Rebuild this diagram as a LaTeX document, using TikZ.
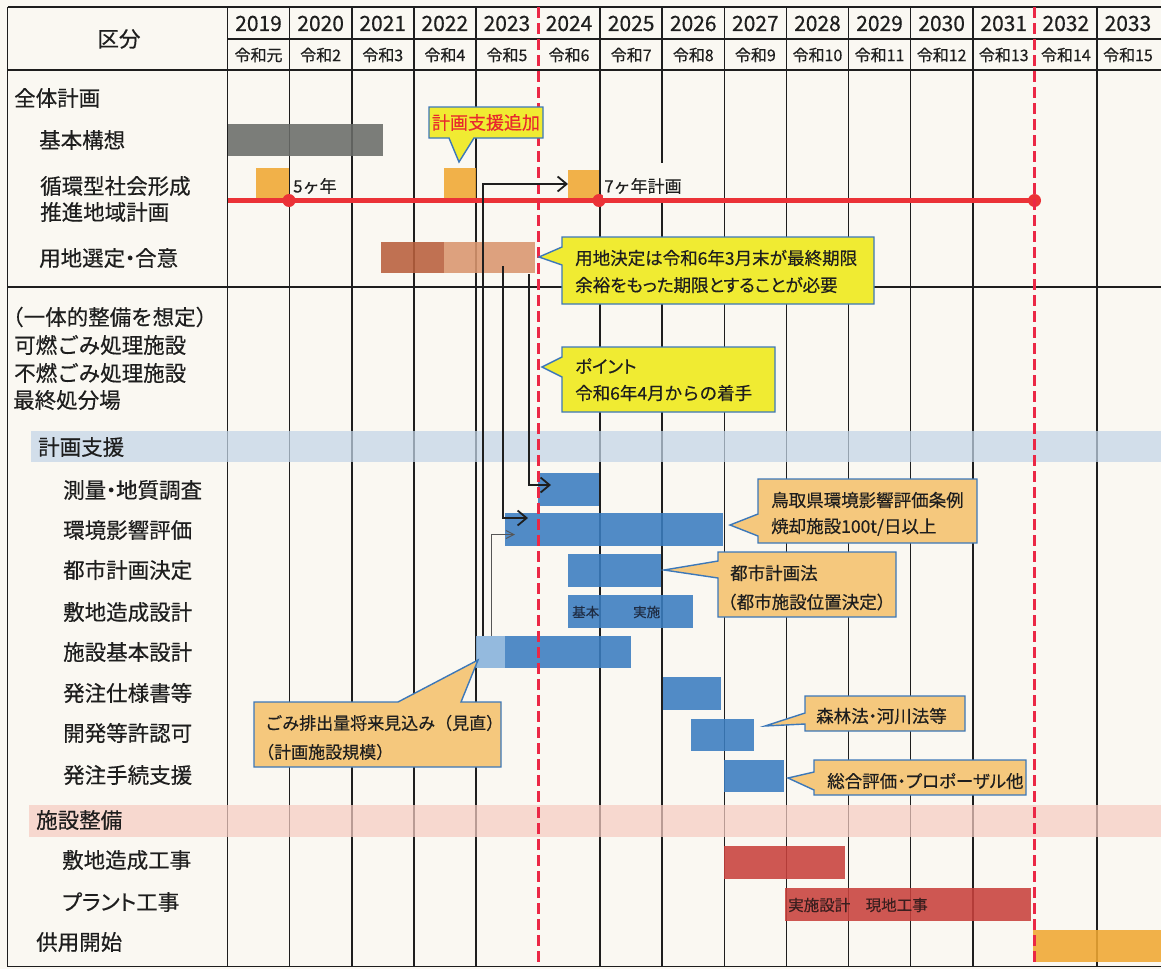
\documentclass[tikz,border=0pt]{standalone}
\usepackage{fontspec}
\setmainfont{Noto Sans CJK JP}[FakeBold=0.4]
\newfontfamily\jpp{Noto Sans CJK JP}[RawFeature=+palt,FakeBold=0.4]
\newcommand\nkg{\kern-0.27em・\kern-0.27em}
\usetikzlibrary{arrows.meta,fit,calc}
\definecolor{paper}{HTML}{FAF8F2}
\definecolor{ink}{HTML}{1E1E1E}
\definecolor{barblue}{HTML}{3A7DC0}
\definecolor{barbluelt}{HTML}{86B2DC}
\definecolor{bandblue}{HTML}{C3D5E8}
\definecolor{bandpink}{HTML}{F6CCC2}
\definecolor{barred}{HTML}{C8413C}
\definecolor{barorange}{HTML}{F0A832}
\definecolor{bargray}{HTML}{6A6C69}
\definecolor{brownd}{HTML}{B95F3C}
\definecolor{brownl}{HTML}{DA966E}
\definecolor{redline}{HTML}{EB3237}
\definecolor{reddash}{HTML}{EB2846}
\definecolor{colYellow}{HTML}{F0EB32}
\definecolor{colTan}{HTML}{F5C87D}
\definecolor{colBorder}{HTML}{3C78B9}
\definecolor{notered}{HTML}{E8282D}
\definecolor{bartext}{HTML}{1F2D44}
\definecolor{bartextr}{HTML}{3A1E1E}
\begin{document}
\begin{tikzpicture}[x=1pt,y=-1pt,
  gridline/.style={line width=1.6pt, draw=ink},
  bar/.style={inner sep=0pt, outer sep=0pt, draw=none, fill opacity=0.88},
  band/.style={draw=none, fill opacity=0.72},
  lbl/.style={anchor=west, inner sep=0pt, text=ink, font=\fontsize{21.5}{24}\selectfont},
  yr/.style={inner sep=0pt, text=ink, font=\fontsize{21}{24}\selectfont},
  era/.style={inner sep=0pt, text=ink, font=\fontsize{16}{18}\selectfont},
  ctext/.style={anchor=west, inner sep=0pt, text=ink, font=\fontsize{17.5}{20}\selectfont},
  smalltext/.style={anchor=west, inner sep=0pt, text=ink, font=\fontsize{17}{20}\selectfont},
  callY/.style={fill=colYellow, draw=colBorder, line width=1.4pt, line join=miter},
  callT/.style={fill=colTan, draw=colBorder, line width=1.4pt, line join=miter},
  dot/.style={circle, fill=redline, inner sep=0pt, minimum size=13pt},
  dashred/.style={draw=reddash, line width=3pt, dash pattern=on 11pt off 5pt},
  arr/.style={draw=ink, line width=1.8pt, -{Straight Barb[length=9pt,width=15pt]}},
  arrthin/.style={draw=ink!75, line width=1pt, -{Straight Barb[length=8pt,width=8pt]}}
]
\useasboundingbox (0,0) rectangle (1161,969);
\fill[paper] (0,0) rectangle (1161,969);

% ---------- grid ----------
\foreach \k in {0,1,2,3,4,6,7,8,9,10,11,12,14}
  \draw[gridline] ({227.5+62.1*\k},7) -- ({227.5+62.1*\k},966.5);
\draw[gridline] (7.5,7) -- (1161,7);
\draw[gridline] (227.5,39) -- (1161,39);
\draw[gridline, line width=2.2pt] (7.5,70) -- (1161,70);
\draw[gridline] (7.5,287) -- (1161,287);
\draw[gridline] (7.5,966.5) -- (1161,966.5);
\draw[gridline] (7.5,7) -- (7.5,966.5);

% ---------- header ----------
\node[lbl, anchor=center] (kubun) at (119,39) {区分};
\foreach \y [count=\i from 0] in {2019,2020,2021,2022,2023,2024,2025,2026,2027,2028,2029,2030,2031,2032,2033}
  \node[yr] (yr\i) at ({258.55+62.1*\i},23.5) {\y};
\foreach \e [count=\i from 0] in {令和元,令和2,令和3,令和4,令和5,令和6,令和7,令和8,令和9,令和10,令和11,令和12,令和13,令和14,令和15}
  \node[era] (era\i) at ({258.55+62.1*\i},55) {\e};

% ---------- bars ----------
\node[bar, fill=bargray, fit={(227.5,124) (383,156)}] (kihonkoso) {};
\node[bar, fill=barorange, fit={(256,168) (289,198)}] (orange1) {};
\node[bar, fill=barorange, fit={(444,168) (475.5,198)}] (orange2) {};
\node[bar, fill=barorange, fit={(568,170) (599,198)}] (orange3) {};
\node[bar, fill=brownd, fit={(381,242) (444,273)}] (yochiA) {};
\node[bar, fill=brownl, fit={(444,242) (535,273)}] (yochiB) {};

\node[bar, fill=barblue, fit={(538,473) (599,506)}] (sokuryo) {};
\node[bar, fill=barblue, fit={(505,513) (723,546)}] (kankyo) {};
\node[bar, fill=barblue, fit={(568,554) (661,587)}] (toshi) {};
\node[bar, fill=barblue, fit={(568,595) (693,628)}] (shikichi) {};
\node[bar, fill=barbluelt, fit={(476,636) (505,668)}] (kihonA) {};
\node[bar, fill=barblue, fit={(505,636) (631,668)}] (kihonB) {};
\node[bar, fill=barblue, fit={(663,677) (721,710)}] (shiyo) {};
\node[bar, fill=barblue, fit={(691,719) (754,751)}] (kaihatsu) {};
\node[bar, fill=barblue, fit={(724,760) (784,792)}] (tetsuzuki) {};
\node[bar, fill=barred, fit={(724,846) (845,879)}] (zoseikoji) {};
\node[bar, fill=barred, fit={(785,888) (1031,921)}] (plant) {};
\node[bar, fill=barorange, fit={(1033,930) (1161,962)}] (kyoyo) {};

% ---------- bands ----------
\fill[band, bandblue] (31,431) rectangle (1161,462);
\fill[band, bandpink] (29,805) rectangle (1161,837);

% ---------- red plan line ----------
\draw[draw=redline, line width=4.5pt] (227.5,200.5) -- (1034.8,200.5);
\node[dot] (dot1) at (289,200.5) {};
\node[dot] (dot2) at (599,200.5) {};
\node[dot] (dot3) at (1034.5,200.5) {};

\fill[paper] (603,163) rectangle (690,198);
\node[smalltext] (five) at (293,186) {5ヶ年};
\node[smalltext] (seven) at (604,186) {7ヶ年計画};

% ---------- dashed red lines ----------
\draw[dashred] (538,7) -- (538,967);
\draw[dashred] (1034.8,7) -- (1034.8,967);

% ---------- arrows ----------
\coordinate (aS) at (483,636);
\coordinate (bS) at (491,636);
\coordinate (cS) at (503,266);
\coordinate (dS) at (529,274);
\draw[arr] (aS) |- (orange3.west);
\draw[arrthin] (bS) |- ($(kankyo.west)+(10,5)$);
\draw[arr] (cS) |- ($(kankyo.west)+(23,-11.5)$);
\draw[arr] (dS) |- ($(sokuryo.west)+(13,-4.5)$);

% ---------- callouts ----------
\draw[callY] (429,107) -- (543,107) -- (543,138) -- (474,138) -- (459,162) -- (449,138) -- (429,138) -- cycle;
\node[inner sep=0pt, text=notered, font=\fontsize{18}{20}\selectfont] (tsuika) at (486,122.5) {計画支援追加};

\draw[callY] (562,237) -- (874,237) -- (874,304) -- (562,304) -- (562,265) -- (539,257) -- (562,247) -- cycle;
\node[ctext] (yochiN1) at (575,258) {用地決定は令和6年3月末が最終期限};
\node[ctext] (yochiN2) at (575,285) {\jpp 余裕をもった期限とすることが必要};

\draw[callY] (562,347) -- (775,347) -- (775,412) -- (562,412) -- (562,377) -- (542,367) -- (562,357) -- cycle;
\node[ctext] (pointN1) at (575,366) {\jpp ポイント};
\node[ctext] (pointN2) at (575,393) {令和6年4月からの着手};

\draw[callT] (758,479) -- (977,479) -- (977,543) -- (758,543) -- (758,536) -- (730,525) -- (758,514) -- cycle;
\node[ctext] (tottoriN1) at (771,500) {鳥取県環境影響評価条例};
\node[ctext] (tottoriN2) at (771,527) {焼却施設100t/日以上};

\draw[callT] (718,552) -- (896,552) -- (896,617) -- (718,617) -- (718,578) -- (664,570) -- (718,561) -- cycle;
\node[ctext] (toshiN1) at (730,573) {都市計画法};
\node[ctext] (toshiN2) at (719,602) {（都市施設位置決定）};

\draw[callT] (254,702) -- (398,702) -- (478,660) -- (461,702) -- (501,702) -- (501,767) -- (254,767) -- cycle;
\node[ctext, font=\fontsize{17}{20}\selectfont] (gomiN1) at (265,723) {ごみ排出量将来見込み（見直）};
\node[ctext, font=\fontsize{17}{20}\selectfont] (gomiN2) at (257,752) {（計画施設規模）};

\draw[callT] (805,696) -- (965,696) -- (965,731) -- (805,731) -- (805,724) -- (765,726) -- (805,713) -- cycle;
\node[ctext] (shinrinN) at (816,716) {森林法\nkg 河川法等};

\draw[callT] (814,760) -- (1026,760) -- (1026,795) -- (814,795) -- (814,790) -- (788,778) -- (814,772) -- cycle;
\node[ctext] (sogoN) at (827,781) {\jpp 総合評価・プロポーザル他};

% ---------- bar texts ----------
\node[anchor=west, inner sep=0pt, text=bartext, font=\fontsize{13.5}{15}\selectfont] (kihonT) at (572,612) {基本};
\node[anchor=west, inner sep=0pt, text=bartext, font=\fontsize{13.5}{15}\selectfont] (jisshiT) at (633,612) {実施};
\node[anchor=west, inner sep=0pt, text=bartextr, font=\fontsize{15.5}{18}\selectfont] (plantT) at (788,905) {実施設計　現地工事};

% ---------- row labels ----------
\node[lbl] (l01) at (14,98) {全体計画};
\node[lbl] (l02) at (39,140) {基本構想};
\node[lbl] (l03) at (40,186) {循環型社会形成};
\node[lbl] (l04) at (40,212) {推進地域計画};
\node[lbl] (l05) at (39,258) {用地選定\nkg 合意};
\node[lbl] (l06) at (2,317) {（一体的整備を想定）};
\node[lbl] (l07) at (14,345) {可燃ごみ処理施設};
\node[lbl] (l08) at (14,373) {不燃ごみ処理施設};
\node[lbl] (l09) at (13,400) {最終処分場};
\node[lbl] (l10) at (38,447) {計画支援};
\node[lbl] (l11) at (63,490) {測量\nkg 地質調査};
\node[lbl] (l12) at (63,530) {環境影響評価};
\node[lbl] (l13) at (63,570) {都市計画決定};
\node[lbl] (l14) at (63,612) {敷地造成設計};
\node[lbl] (l15) at (63,652) {施設基本設計};
\node[lbl] (l16) at (63,693) {発注仕様書等};
\node[lbl] (l17) at (63,733) {開発等許認可};
\node[lbl] (l18) at (63,775) {発注手続支援};
\node[lbl] (l19) at (36,820) {施設整備};
\node[lbl] (l20) at (62,860) {敷地造成工事};
\node[lbl] (l21) at (62,902) {\jpp プラント工事};
\node[lbl] (l22) at (36,942) {供用開始};
\end{tikzpicture}
\end{document}
